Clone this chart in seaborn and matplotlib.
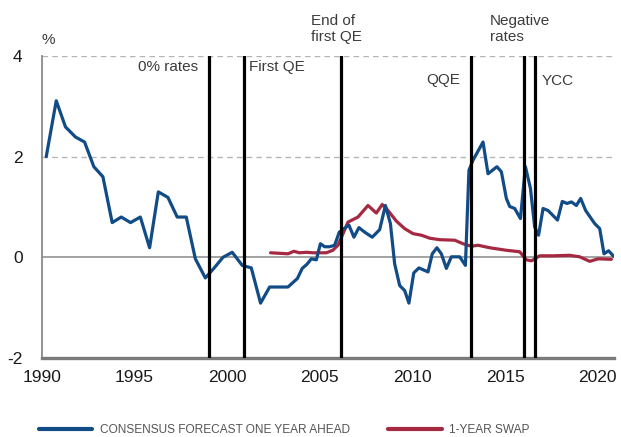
import matplotlib
matplotlib.use('Agg')
import matplotlib.pyplot as plt
import seaborn as sns
import pandas as pd

# ---------------------------------------------------------------------------
# Data
# ---------------------------------------------------------------------------
consensus_year = [
    1990.23, 1990.77, 1991.27, 1991.81, 1992.30, 1992.80, 1993.29, 1993.79,
    1994.28, 1994.78, 1995.31, 1995.81, 1996.28, 1996.80, 1997.30, 1997.79,
    1998.28, 1998.82, 1999.30, 1999.77, 2000.27, 2000.81, 2001.30, 2001.80,
    2002.29, 2002.79, 2003.28, 2003.79, 2004.05, 2004.30, 2004.54, 2004.81,
    2005.03, 2005.26, 2005.53, 2005.80, 2006.05, 2006.57, 2006.84, 2007.11,
    2007.42, 2007.83, 2008.23, 2008.54, 2008.81, 2009.04, 2009.31, 2009.58,
    2009.81, 2010.07, 2010.35, 2010.84, 2011.07, 2011.32, 2011.56, 2011.83,
    2012.10, 2012.55, 2012.86, 2013.05, 2013.27, 2013.81, 2014.08, 2014.56,
    2014.80, 2015.07, 2015.25, 2015.52, 2015.83, 2016.10, 2016.37, 2016.60,
    2016.81, 2017.05, 2017.32, 2017.83, 2018.09, 2018.34, 2018.58, 2018.85,
    2019.08, 2019.35, 2019.84, 2020.11, 2020.34, 2020.59, 2020.86,
]
consensus_value = [
    2.00, 3.11, 2.59, 2.39, 2.29, 1.80, 1.60, 0.69,
    0.80, 0.69, 0.80, 0.19, 1.30, 1.19, 0.80, 0.80,
    -0.03, -0.41, -0.21, 0.00, 0.10, -0.16, -0.21, -0.91,
    -0.59, -0.59, -0.59, -0.42, -0.22, -0.14, -0.03, -0.05,
    0.27, 0.21, 0.21, 0.24, 0.50, 0.64, 0.40, 0.59,
    0.50, 0.40, 0.55, 1.03, 0.67, -0.13, -0.56, -0.66,
    -0.91, -0.31, -0.21, -0.29, 0.07, 0.19, 0.07, -0.22,
    0.01, 0.01, -0.16, 1.73, 1.93, 2.29, 1.66, 1.80,
    1.70, 1.17, 1.01, 0.97, 0.77, 1.80, 1.37, 0.60,
    0.44, 0.97, 0.93, 0.74, 1.11, 1.07, 1.10, 1.03,
    1.17, 0.93, 0.67, 0.57, 0.07, 0.13, 0.02,
]

swap_year = [
    2002.34, 2003.28, 2003.60, 2003.90, 2004.27, 2004.63, 2005.35, 2005.70,
    2005.98, 2006.25, 2006.52, 2007.06, 2007.60, 2008.05, 2008.37, 2008.68,
    2009.13, 2009.58, 2010.03, 2010.48, 2010.93, 2011.47, 2012.28, 2012.73,
    2013.18, 2013.54, 2014.17, 2015.07, 2015.79, 2016.15, 2016.42, 2016.87,
    2017.59, 2018.49, 2019.03, 2019.57, 2020.02, 2020.74,
]
swap_value = [
    0.09, 0.07, 0.12, 0.09, 0.10, 0.09, 0.09, 0.14,
    0.24, 0.47, 0.70, 0.80, 1.03, 0.88, 1.05, 0.93,
    0.72, 0.57, 0.47, 0.44, 0.38, 0.35, 0.34, 0.27,
    0.22, 0.24, 0.19, 0.14, 0.11, -0.05, -0.07, 0.03,
    0.03, 0.04, 0.01, -0.08, -0.03, -0.04,
]

# policy events (vertical lines)
event_year = [1999.0, 2000.9, 2006.15, 2013.15, 2016.0, 2016.6]

x_ticks = [1990, 1995, 2000, 2005, 2010, 2015, 2020]
y_ticks = [-2, 0, 2, 4]

BLUE = '#114C86'
RED = '#A62942'
TEXT = '#3c3c3c'

consensus_df = pd.DataFrame({'year': consensus_year, 'value': consensus_value})
swap_df = pd.DataFrame({'year': swap_year, 'value': swap_value})

# ---------------------------------------------------------------------------
# Plot
# ---------------------------------------------------------------------------
sns.set_style('white')
plt.rcParams['font.family'] = ['Liberation Sans', 'DejaVu Sans']
plt.rcParams['axes.unicode_minus'] = False

fig = plt.figure(figsize=(6.21, 4.37), dpi=100)
ax = fig.add_axes([0.0676, 0.1808, 0.9211, 0.6911])

# gridlines
for yv in [2, 4]:
    ax.axhline(yv, color='#b5b5b5', lw=1.0, ls=(0, (4, 3)), zorder=0)
ax.axhline(0, color='#8a8a8a', lw=1.1, zorder=0)

sns.lineplot(data=consensus_df, x='year', y='value', ax=ax, color=BLUE,
             lw=2.3, label='CONSENSUS FORECAST ONE YEAR AHEAD', zorder=3)
sns.lineplot(data=swap_df, x='year', y='value', ax=ax, color=RED,
             lw=2.3, label='1-YEAR SWAP', zorder=2)

for ev in event_year:
    ax.axvline(ev, color='black', lw=2.3, zorder=4)

ax.set_xlim(1990, 2020.88)
ax.set_ylim(-2, 4)
ax.set_xticks(x_ticks)
ax.set_yticks(y_ticks)
ax.set_xlabel('')
ax.set_ylabel('')

ax.tick_params(axis='x', direction='in', length=4, width=1, color='#999999',
               pad=9, labelsize=12.5, labelcolor='#1a1a1a')
ax.tick_params(axis='y', length=0, pad=14, labelsize=12.5, labelcolor='#1a1a1a')

for side in ['top', 'right']:
    ax.spines[side].set_visible(False)
ax.spines['left'].set_color('#8a8a8a')
ax.spines['left'].set_linewidth(1.3)
ax.spines['bottom'].set_color('#7a7a7a')
ax.spines['bottom'].set_linewidth(2.4)

# annotations
ax.text(0.0, 1.053, '%', transform=ax.transAxes, ha='left', va='center',
        fontsize=11, color=TEXT)
ann = dict(fontsize=11, color=TEXT, va='center', clip_on=False)
ax.text(1998.45, 3.78, '0% rates', ha='right', **ann)
ax.text(2001.2, 3.78, 'First QE', ha='left', **ann)
ax.text(2004.55, 4.53, 'End of\nfirst QE', ha='left', linespacing=1.15, **ann)
ax.text(2012.55, 3.52, 'QQE', ha='right', **ann)
ax.text(2014.18, 4.53, 'Negative\nrates', ha='left', linespacing=1.15, **ann)
ax.text(2017.0, 3.5, 'YCC', ha='left', **ann)

leg = ax.legend(loc='center', bbox_to_anchor=(0.423, -0.238), ncol=2,
                frameon=False, handlelength=4.5, handletextpad=0.6,
                columnspacing=3.2, prop={'size': 8.6})
for t in leg.get_texts():
    t.set_color('#555555')
for h in leg.get_lines():
    h.set_linewidth(3)

fig.savefig('out.png', dpi=100)
